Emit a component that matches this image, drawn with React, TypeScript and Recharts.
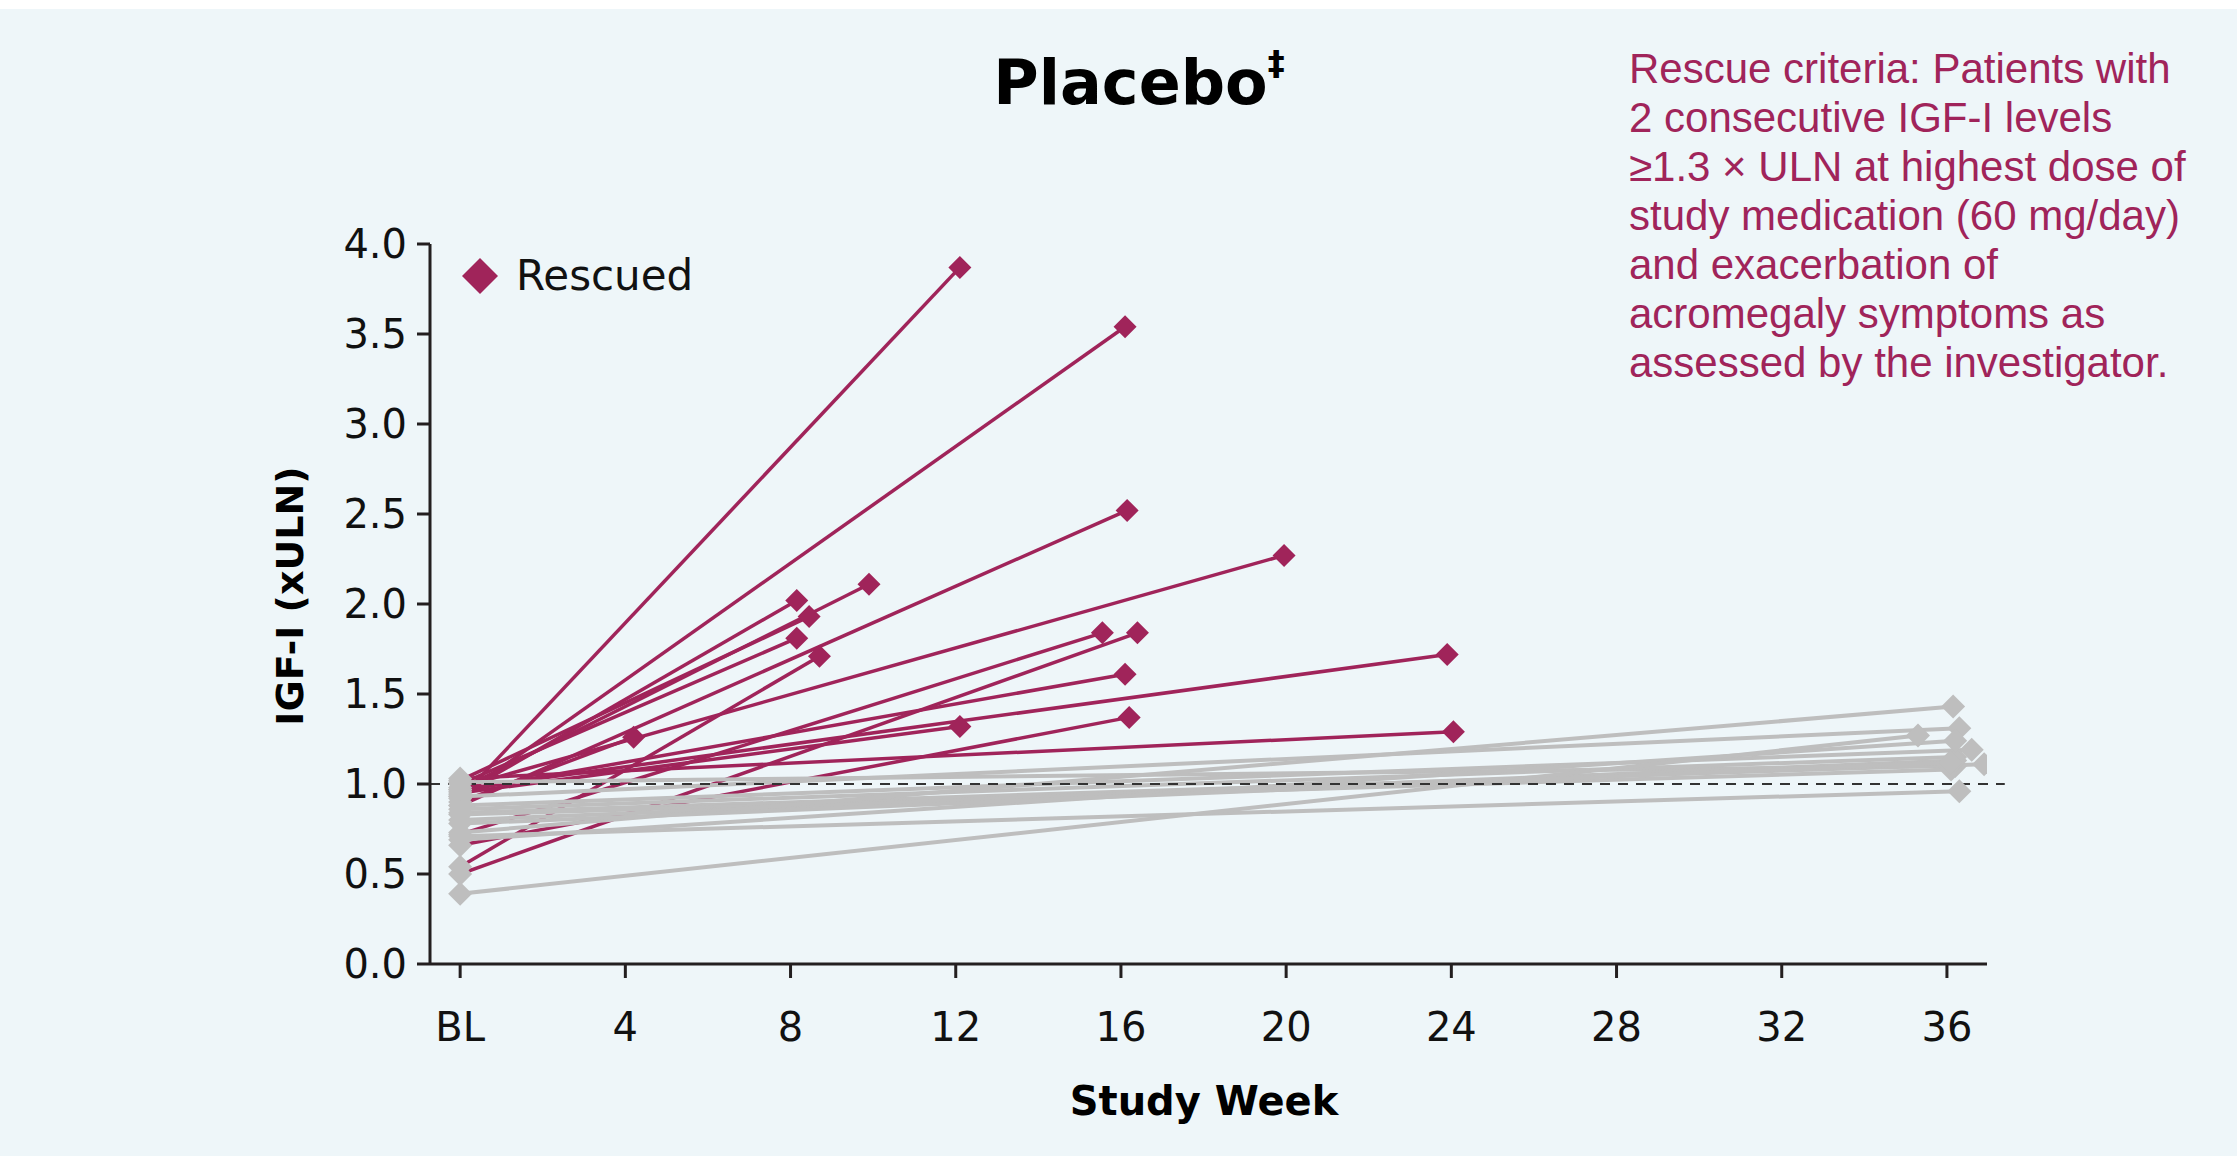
import React from "react";
import { ComposedChart, Line, XAxis, YAxis, ReferenceLine } from "recharts";

// rescued patients: baseline value, week of rescue, IGF-I at rescue
const rescuedBaseline = [0.92, 0.93, 0.88, 0.98, 0.97, 0.94, 1.02, 0.72, 0.5, 1.0, 0.54, 0.97, 0.96, 0.95, 0.66, 1.03, 0.9];
const rescuedWeek = [12.1, 16.1, 16.15, 19.95, 9.9, 8.15, 8.45, 15.55, 16.4, 8.15, 8.7, 23.9, 16.1, 12.1, 16.2, 24.05, 4.2];
const rescuedValue = [3.87, 3.54, 2.52, 2.27, 2.11, 2.02, 1.93, 1.84, 1.84, 1.81, 1.71, 1.72, 1.61, 1.32, 1.37, 1.29, 1.26];

// patients who completed to week 36
const completerBaseline = [1.01, 0.93, 0.88, 0.86, 0.84, 0.83, 0.8, 0.73, 0.71, 0.69, 0.39, 0.78];
const completerWeek = [36.2, 36.3, 36.6, 36.2, 36.9, 36.1, 36.2, 36.15, 36.3, 36.2, 35.3, 36.1];
const completerValue = [1.1, 1.31, 1.19, 1.15, 1.11, 1.08, 1.13, 1.43, 0.96, 1.24, 1.27, 1.12];

const weekTicks = [0, 4, 8, 12, 16, 20, 24, 28, 32, 36];
const yTicks = [0, 0.5, 1, 1.5, 2, 2.5, 3, 3.5, 4];

const RED = "#A0245A";
const GRAY = "#BEBEBE";
const AXIS = "#231F20";
const FONT = "'DejaVu Sans', sans-serif";

const rescued = rescuedBaseline.map((b, i) => [
  { w: 0, v: b },
  { w: rescuedWeek[i], v: rescuedValue[i] },
]);
const completers = completerBaseline.map((b, i) => [
  { w: 0, v: b },
  { w: completerWeek[i], v: completerValue[i] },
]);

const diamond = (cx: number, cy: number, r: number, fill: string, key: string) => (
  <path key={key} d={`M${cx},${cy - r}L${cx + r},${cy}L${cx},${cy + r}L${cx - r},${cy}Z`} fill={fill} />
);

export default function App() {
  return (
    <div style={{ position: "absolute", left: 0, top: 0, width: 2237, height: 1156, background: "#fff", fontFamily: FONT }}>
      <div style={{ position: "absolute", left: 0, top: 9, width: 2237, height: 1147, background: "#EEF6F9" }} />
      <ComposedChart
        width={2237}
        height={1156}
        margin={{ top: 244, right: 250, bottom: 132, left: 330 }}
        style={{ position: "absolute", left: 0, top: 0 }}
      >
        <XAxis
          type="number"
          dataKey="w"
          domain={[-0.73, 36.97]}
          allowDataOverflow
          ticks={weekTicks}
          tickFormatter={(v: number) => (v === 0 ? "BL" : String(v))}
          height={60}
          tickSize={14}
          tickMargin={35}
          stroke={AXIS}
          strokeWidth={3}
          tick={{ fill: "#111", fontSize: 40, fontFamily: FONT }}
        />
        <YAxis
          type="number"
          domain={[0, 4]}
          ticks={yTicks}
          tickFormatter={(v: number) => v.toFixed(1)}
          width={100}
          tickSize={13}
          tickMargin={10}
          stroke={AXIS}
          strokeWidth={3}
          tick={{ fill: "#111", fontSize: 40, fontFamily: FONT }}
        />
        {rescued.map((d, i) => (
          <Line
            key={`r${i}`}
            data={d}
            dataKey="v"
            stroke={RED}
            strokeWidth={3.5}
            isAnimationActive={false}
            activeDot={false}
            dot={(p: any) =>
              p.index === 0
                ? diamond(p.cx, p.cy, 12, GRAY, `rb${i}`)
                : diamond(p.cx, p.cy, 11.5, RED, `re${i}`)
            }
          />
        ))}
        {completers.map((d, i) => (
          <Line
            key={`c${i}`}
            data={d}
            dataKey="v"
            stroke={GRAY}
            strokeWidth={4}
            isAnimationActive={false}
            activeDot={false}
            dot={(p: any) => diamond(p.cx, p.cy, 12, GRAY, `c${i}-${p.index}`)}
          />
        ))}
        <ReferenceLine
          segment={[{ x: -0.73, y: 1 }, { x: 37.4, y: 1 }]}
          ifOverflow="visible"
          stroke="#333"
          strokeWidth={2}
          strokeDasharray="10 8"
        />
      </ComposedChart>

      <div style={{ position: "absolute", left: 1139, top: 82, transform: "translate(-50%,-50%)", fontSize: 62, fontWeight: 700, color: "#000", whiteSpace: "nowrap" }}>
        Placebo<sup style={{ fontSize: 34, verticalAlign: "top", lineHeight: 1 }}>‡</sup>
      </div>

      <div style={{ position: "absolute", left: 290, top: 596, transform: "translate(-50%,-50%) rotate(-90deg)", fontSize: 38, fontWeight: 700, color: "#000", whiteSpace: "nowrap" }}>
        IGF-I (xULN)
      </div>

      <div style={{ position: "absolute", left: 1204, top: 1101, transform: "translate(-50%,-50%)", fontSize: 40, fontWeight: 700, color: "#000", whiteSpace: "nowrap" }}>
        Study Week
      </div>

      <div style={{ position: "absolute", left: 462, top: 251, display: "flex", alignItems: "center", gap: 18 }}>
        <svg width={36} height={36}>
          <path d="M18,0L36,18L18,36L0,18Z" fill={RED} />
        </svg>
        <span style={{ fontSize: 42, color: "#111" }}>Rescued</span>
      </div>

      <div style={{ position: "absolute", left: 1629, top: 44, fontFamily: "'Liberation Sans', Arial, sans-serif", fontSize: 42, lineHeight: "49px", color: RED, whiteSpace: "nowrap" }}>
        <div>Rescue criteria: Patients with</div>
        <div>2 consecutive IGF-I levels</div>
        <div>≥1.3 × ULN at highest dose of</div>
        <div>study medication (60 mg/day)</div>
        <div>and exacerbation of</div>
        <div>acromegaly symptoms as</div>
        <div>assessed by the investigator.</div>
      </div>
    </div>
  );
}
